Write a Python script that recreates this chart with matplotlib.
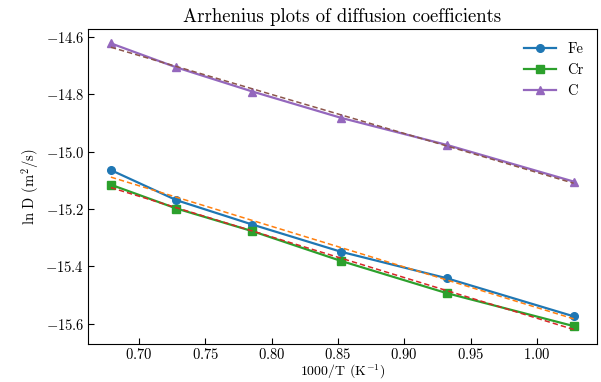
import numpy as np
import matplotlib
matplotlib.use('Agg')
import matplotlib.pyplot as plt

plt.rcParams['font.family'] = 'serif'
plt.rcParams['font.serif'] = ['cmr10']
plt.rcParams['mathtext.fontset'] = 'cm'
plt.rcParams['axes.formatter.use_mathtext'] = True
plt.rcParams['xtick.direction'] = 'in'
plt.rcParams['ytick.direction'] = 'in'

# temperatures (K) -> 1000/T
temps = [1473, 1373, 1273, 1173, 1073, 973]
inv_t = [1000.0 / t for t in temps]

# ln D
ln_d_fe = [-15.064, -15.169, -15.254, -15.349, -15.441, -15.574]
ln_d_cr = [-15.115, -15.198, -15.277, -15.381, -15.493, -15.608]
ln_d_c = [-14.622, -14.706, -14.790, -14.882, -14.976, -15.104]

fig, ax = plt.subplots(figsize=(6.01, 3.82), dpi=100)

for name, vals, mk in [('Fe', ln_d_fe, 'o'), ('Cr', ln_d_cr, 's'), ('C', ln_d_c, '^')]:
    ax.plot(inv_t, vals, marker=mk, markersize=5.5, linewidth=1.6, label=name)
    # linear (Arrhenius) fit
    p = np.polyfit(inv_t, vals, 1)
    ax.plot(inv_t, np.polyval(p, inv_t), '--', linewidth=1.1, dashes=(3.5, 2))

ax.set_title("Arrhenius plots of diffusion coefficients", fontsize=13.5, pad=5)
ax.set_xlabel(r"1000/T (K$^{-1}$)", fontsize=10, labelpad=0)
ax.set_ylabel(r"ln D (m$^2$/s)", fontsize=10.5, labelpad=3)
ax.tick_params(labelsize=10.5, length=4, pad=2.5)
ax.set_xticks([0.70, 0.75, 0.80, 0.85, 0.90, 0.95, 1.00])
ax.legend(frameon=False, fontsize=10.5, handlelength=2.2)

fig.subplots_adjust(left=0.146, right=0.993, top=0.924, bottom=0.1)
plt.savefig('out.png', dpi=100)
